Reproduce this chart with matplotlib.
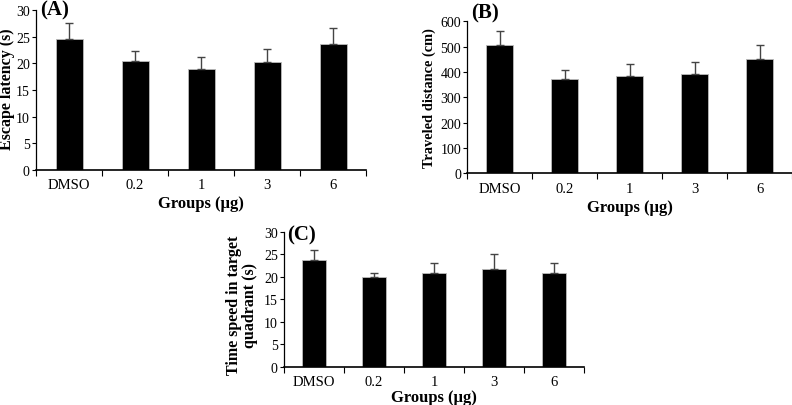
import matplotlib.pyplot as plt
import numpy as np

plt.rcParams['font.family'] = ['Liberation Serif', 'DejaVu Serif']

groups = ['DMSO', '0.2', '1', '3', '6']

# (A) escape latency
latency = [24.5, 20.4, 19.0, 20.2, 23.7]
latency_err = [3.0, 1.9, 2.2, 2.4, 2.9]

# (B) traveled distance
distance = [505, 372, 383, 392, 452]
distance_err = [57, 36, 49, 46, 53]

# (C) time in target quadrant
quadrant = [23.8, 19.9, 20.8, 21.8, 20.8]
quadrant_err = [2.1, 1.0, 2.3, 3.2, 2.3]

fig = plt.figure(figsize=(7.92, 4.06), dpi=100)


def panel(rect, vals, errs, ymax, ystep, ylabel, tag, ylab_xy, xlab_y, tag_y, ylab_size):
    ax = fig.add_axes(rect)
    x = np.arange(len(groups))
    ax.bar(x, vals, width=0.41, color='black', edgecolor='#bbbbbb', linewidth=0.6)
    ax.errorbar(x, vals, yerr=[np.zeros(len(errs)), errs], fmt='none',
                ecolor='#444444', elinewidth=1.0, capsize=3, capthick=1.0)
    ax.set_xlim(-0.5, len(groups) - 0.5)
    ax.set_ylim(0, ymax)
    ax.set_yticks(np.arange(0, ymax + 1, ystep))
    ax.set_xticks(np.arange(len(groups) + 1) - 0.5)
    ax.set_xticklabels([])
    ax.set_xticks(x, minor=True)
    ax.set_xticklabels(groups, minor=True)
    ax.tick_params(axis='x', which='minor', length=0, labelsize=10.5, pad=6)
    ax.tick_params(axis='x', which='major', length=4, width=0.8, direction='out')
    ax.tick_params(axis='y', length=3, width=0.8, labelsize=10, pad=1.5)
    for s in ['top', 'right']:
        ax.spines[s].set_visible(False)
    ax.spines['left'].set_linewidth(0.9)
    ax.spines['bottom'].set_linewidth(1.2)
    ax.set_ylabel(ylabel, fontsize=ylab_size, fontweight='bold', linespacing=1.0,
                  multialignment='center')
    ax.yaxis.set_label_coords(*ylab_xy)
    ax.set_xlabel('Groups (μg)', fontsize=12, fontweight='bold')
    ax.xaxis.set_label_coords(0.5, xlab_y)
    ax.text(0.012, tag_y, tag, transform=ax.transAxes, fontsize=15,
            fontweight='bold', ha='left', va='center')
    return ax


panel([0.0455, 0.579, 0.417, 0.394], latency, latency_err, 30, 5,
      'Escape latency (s)', '(A)', (-0.064, 0.51), -0.155, 1.0, 11.5)
panel([0.590, 0.571, 0.41, 0.374], distance, distance_err, 600, 100,
      'Traveled distance (cm)', '(B)', (-0.095, 0.5), -0.17, 1.06, 10.4)
panel([0.3586, 0.0936, 0.379, 0.333], quadrant, quadrant_err, 30, 5,
      'Time speed in target\nquadrant (s)', '(C)', (-0.085, 0.46), -0.16, 0.98, 11.5)

fig.savefig('out.png', dpi=100)
